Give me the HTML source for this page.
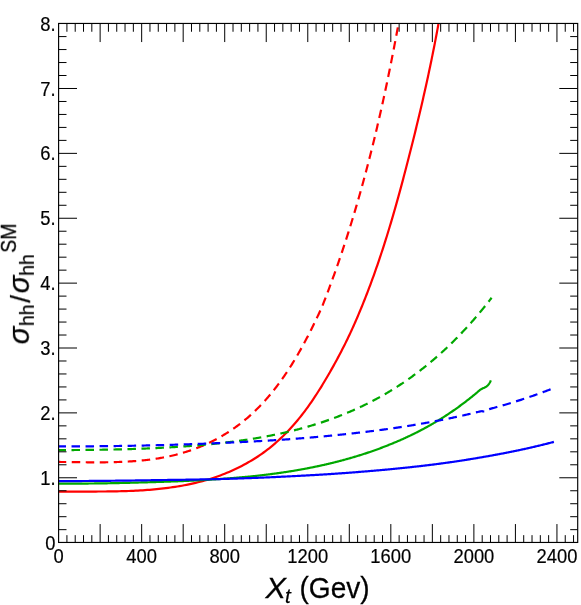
<!DOCTYPE html>
<html><head><meta charset="utf-8"><title>chart</title>
<style>
html,body{margin:0;padding:0;background:#fff;}
svg{display:block;}
text{font-family:"Liberation Sans",sans-serif;fill:#000;}
.tl{font-size:20.0px;stroke:#000;stroke-width:0.2px;}
.it{font-style:italic;}
</style></head><body>
<svg width="581" height="605" viewBox="0 0 581 605">
<rect x="0" y="0" width="581" height="605" fill="#fff"/>
<defs><clipPath id="clip"><rect x="58.6" y="23.45" width="519.1" height="519.0"/></clipPath></defs>

<g clip-path="url(#clip)" fill="none" stroke-width="2.2" stroke-linejoin="round">
<path d="M58.72,491.76 L61.04,491.72 L63.36,491.69 L65.68,491.66 L68.01,491.63 L70.33,491.61 L72.66,491.60 L74.99,491.58 L77.32,491.57 L79.65,491.56 L81.98,491.56 L84.32,491.55 L86.65,491.55 L88.98,491.54 L91.32,491.54 L93.65,491.54 L95.99,491.53 L98.33,491.52 L100.66,491.51 L103.00,491.49 L105.34,491.48 L107.67,491.46 L110.01,491.43 L112.34,491.40 L114.68,491.36 L117.02,491.32 L119.35,491.27 L121.69,491.21 L124.02,491.15 L126.35,491.07 L128.69,490.99 L131.02,490.90 L133.35,490.80 L135.68,490.69 L138.01,490.57 L140.33,490.44 L142.66,490.29 L144.98,490.13 L147.31,489.96 L149.63,489.78 L151.95,489.58 L154.27,489.37 L156.58,489.14 L158.90,488.90 L161.21,488.64 L163.52,488.36 L165.83,488.08 L168.14,487.80 L170.45,487.50 L172.75,487.18 L175.06,486.84 L177.36,486.48 L179.66,486.11 L181.96,485.71 L184.25,485.29 L186.55,484.84 L188.84,484.38 L191.12,483.89 L193.40,483.38 L195.68,482.85 L197.96,482.30 L200.23,481.72 L202.49,481.12 L204.75,480.50 L207.00,479.85 L209.25,479.18 L211.49,478.49 L213.72,477.77 L215.95,477.02 L218.15,476.23 L220.35,475.42 L222.54,474.58 L224.72,473.72 L226.89,472.83 L229.05,471.92 L231.20,470.98 L233.34,470.02 L235.47,469.03 L237.58,468.02 L239.68,466.98 L241.77,465.92 L243.84,464.83 L245.89,463.72 L247.93,462.58 L249.96,461.41 L251.97,460.22 L253.96,459.00 L255.93,457.75 L257.88,456.47 L259.82,455.17 L261.74,453.84 L263.63,452.49 L265.51,451.11 L267.36,449.70 L269.20,448.26 L271.01,446.80 L272.81,445.32 L274.58,443.81 L276.34,442.28 L278.08,440.73 L279.79,439.15 L281.49,437.55 L283.17,435.93 L284.83,434.29 L286.47,432.63 L288.09,430.94 L289.69,429.24 L291.27,427.52 L292.84,425.79 L294.38,424.03 L295.91,422.26 L297.41,420.47 L298.90,418.67 L300.37,416.84 L301.82,415.01 L303.26,413.16 L304.67,411.29 L306.07,409.42 L307.45,407.53 L308.82,405.62 L310.17,403.71 L311.50,401.78 L312.82,399.85 L314.12,397.90 L315.41,395.95 L316.69,393.98 L317.96,392.01 L319.21,390.03 L320.46,388.04 L321.69,386.05 L322.91,384.05 L324.12,382.04 L325.32,380.03 L326.51,378.01 L327.70,376.00 L328.87,373.97 L330.04,371.94 L331.20,369.91 L332.35,367.88 L333.49,365.84 L334.62,363.79 L335.75,361.74 L336.86,359.69 L337.97,357.64 L339.07,355.57 L340.16,353.51 L341.24,351.44 L342.30,349.37 L343.36,347.29 L344.42,345.20 L345.46,343.12 L346.49,341.02 L347.51,338.93 L348.52,336.83 L349.52,334.72 L350.51,332.61 L351.49,330.50 L352.45,328.37 L353.41,326.25 L354.36,324.12 L355.29,321.99 L356.22,319.85 L357.15,317.71 L358.06,315.57 L358.97,313.43 L359.87,311.28 L360.76,309.13 L361.65,306.97 L362.53,304.81 L363.40,302.65 L364.26,300.49 L365.12,298.32 L365.97,296.16 L366.82,293.99 L367.65,291.81 L368.48,289.63 L369.31,287.46 L370.13,285.27 L370.94,283.09 L371.74,280.90 L372.54,278.71 L373.34,276.52 L374.13,274.33 L374.91,272.13 L375.68,269.93 L376.45,267.73 L377.22,265.53 L377.97,263.33 L378.73,261.12 L379.48,258.91 L380.22,256.70 L380.95,254.49 L381.69,252.27 L382.41,250.06 L383.13,247.84 L383.85,245.62 L384.56,243.39 L385.27,241.17 L385.97,238.94 L386.66,236.72 L387.35,234.49 L388.04,232.26 L388.72,230.02 L389.40,227.79 L390.07,225.55 L390.74,223.32 L391.40,221.08 L392.06,218.84 L392.72,216.60 L393.37,214.36 L394.02,212.11 L394.67,209.87 L395.31,207.62 L395.95,205.38 L396.58,203.13 L397.21,200.88 L397.84,198.63 L398.46,196.38 L399.08,194.13 L399.70,191.88 L400.31,189.62 L400.92,187.37 L401.53,185.11 L402.13,182.86 L402.74,180.60 L403.33,178.35 L403.93,176.09 L404.53,173.83 L405.12,171.57 L405.71,169.31 L406.29,167.06 L406.88,164.80 L407.46,162.54 L408.04,160.28 L408.62,158.02 L409.19,155.76 L409.76,153.49 L410.34,151.23 L410.92,148.97 L411.49,146.71 L412.06,144.45 L412.63,142.19 L413.19,139.93 L413.76,137.67 L414.32,135.41 L414.88,133.15 L415.44,130.88 L415.99,128.62 L416.54,126.35 L417.09,124.09 L417.64,121.83 L418.18,119.56 L418.72,117.29 L419.26,115.03 L419.80,112.76 L420.33,110.49 L420.86,108.22 L421.39,105.95 L421.92,103.69 L422.44,101.42 L422.96,99.14 L423.48,96.87 L424.00,94.60 L424.51,92.33 L425.02,90.05 L425.53,87.78 L426.03,85.51 L426.53,83.23 L427.03,80.95 L427.52,78.68 L428.02,76.40 L428.51,74.12 L428.99,71.84 L429.48,69.56 L429.96,67.28 L430.43,65.00 L430.91,62.72 L431.38,60.43 L431.85,58.15 L432.31,55.86 L432.78,53.58 L433.23,51.29 L433.69,49.00 L434.14,46.71 L434.59,44.42 L435.04,42.13 L435.48,39.84 L435.92,37.55 L436.36,35.26 L436.79,32.96 L437.22,30.67 L437.65,28.37 L438.07,26.07 L438.49,23.77 L438.91,21.47 L439.32,19.17 L439.73,16.87 L440.14,14.57 L440.54,12.26 L440.94,9.96" stroke="#ff0000"/>
<path d="M58.83,461.96 L59.91,461.97 L60.98,461.98 L62.06,461.99 L63.14,462.00 L64.23,462.01 L65.31,462.02 L66.40,462.03 L67.48,462.04 L68.57,462.06 L69.66,462.07 L70.76,462.08 L71.85,462.10 L72.94,462.11 L74.04,462.12 L75.14,462.14 L76.23,462.15 L77.33,462.17 L78.43,462.18 L79.54,462.19 L80.64,462.21 L81.74,462.22 L82.85,462.23 L83.95,462.25 L85.06,462.26 L86.17,462.27 L87.28,462.28 L88.39,462.29 L89.50,462.29 L90.61,462.30 L91.72,462.31 L92.84,462.31 L93.95,462.32 L95.07,462.32 L96.18,462.32 L97.30,462.32 L98.41,462.32 L99.53,462.32 L100.65,462.32 L101.77,462.31 L102.88,462.30 L104.00,462.29 L105.12,462.28 L106.24,462.27 L107.36,462.25 L108.48,462.24 L109.60,462.22 L110.72,462.20 L111.85,462.18 L112.97,462.15 L114.09,462.12 L115.21,462.09 L116.33,462.06 L117.45,462.02 L118.57,461.99 L119.70,461.94 L120.82,461.90 L121.94,461.85 L123.06,461.81 L124.18,461.75 L125.30,461.70 L126.42,461.64 L127.54,461.58 L128.66,461.51 L129.78,461.45 L130.90,461.37 L132.02,461.30 L133.14,461.22 L134.26,461.14 L135.37,461.05 L136.49,460.96 L137.61,460.87 L138.72,460.77 L139.84,460.67 L140.95,460.57 L142.07,460.46 L143.18,460.35 L144.29,460.23 L145.40,460.11 L146.51,459.98 L147.62,459.85 L148.73,459.72 L149.84,459.58 L150.95,459.43 L152.05,459.28 L153.16,459.13 L154.26,458.97 L155.36,458.81 L156.46,458.64 L157.56,458.47 L158.66,458.29 L159.76,458.11 L160.86,457.92 L161.95,457.73 L163.05,457.53 L164.14,457.32 L165.23,457.11 L166.32,456.90 L167.41,456.68 L168.50,456.45 L169.58,456.22 L170.66,455.98 L171.75,455.73 L172.83,455.48 L173.91,455.23 L174.98,454.96 L176.06,454.70 L177.13,454.42 L178.20,454.14 L179.27,453.85 L180.34,453.56 L181.41,453.26 L182.47,452.95 L183.53,452.64 L184.59,452.32 L185.65,451.99 L186.71,451.66 L187.76,451.31 L188.81,450.97 L189.86,450.61 L190.91,450.25 L191.96,449.89 L193.00,449.51 L194.04,449.13 L195.08,448.75 L196.11,448.36 L197.14,447.96 L198.18,447.55 L199.20,447.14 L200.23,446.72 L201.25,446.30 L202.27,445.87 L203.29,445.43 L204.30,444.98 L205.31,444.53 L206.32,444.08 L207.33,443.62 L208.33,443.15 L209.33,442.67 L210.33,442.19 L211.32,441.70 L212.31,441.21 L213.30,440.71 L214.28,440.20 L215.26,439.69 L216.24,439.17 L217.21,438.65 L218.18,438.12 L219.15,437.58 L220.11,437.04 L221.07,436.49 L222.03,435.94 L222.98,435.38 L223.93,434.81 L224.88,434.24 L225.82,433.66 L226.76,433.07 L227.70,432.48 L228.63,431.89 L229.55,431.29 L230.48,430.68 L231.40,430.06 L232.31,429.44 L233.22,428.82 L234.13,428.19 L235.03,427.55 L235.93,426.91 L236.82,426.26 L237.71,425.61 L238.60,424.95 L239.48,424.28 L240.36,423.61 L241.23,422.94 L242.10,422.25 L242.96,421.57 L243.82,420.87 L244.68,420.17 L245.53,419.47 L246.37,418.76 L247.22,418.04 L248.05,417.32 L248.88,416.60 L249.71,415.87 L250.53,415.13 L251.35,414.39 L252.17,413.64 L252.98,412.89 L253.78,412.13 L254.58,411.37 L255.38,410.60 L256.17,409.83 L256.96,409.05 L257.74,408.27 L258.52,407.49 L259.29,406.70 L260.06,405.90 L260.83,405.10 L261.59,404.30 L262.35,403.49 L263.10,402.68 L263.85,401.86 L264.60,401.04 L265.34,400.21 L266.07,399.38 L266.81,398.55 L267.54,397.71 L268.26,396.87 L268.98,396.02 L269.70,395.17 L270.41,394.32 L271.12,393.46 L271.83,392.60 L272.53,391.73 L273.23,390.87 L273.92,389.99 L274.61,389.12 L275.30,388.24 L275.98,387.36 L276.66,386.47 L277.33,385.58 L278.00,384.69 L278.67,383.79 L279.33,382.90 L280.00,381.99 L280.65,381.09 L281.30,380.18 L281.95,379.27 L282.60,378.36 L283.24,377.44 L283.88,376.52 L284.52,375.60 L285.15,374.67 L285.78,373.75 L286.40,372.82 L287.03,371.89 L287.64,370.95 L288.26,370.01 L288.87,369.08 L289.48,368.13 L290.08,367.19 L290.69,366.24 L291.29,365.30 L291.88,364.35 L292.47,363.39 L293.06,362.44 L293.65,361.48 L294.23,360.53 L294.81,359.57 L295.39,358.61 L295.96,357.64 L296.53,356.68 L297.10,355.71 L297.67,354.74 L298.23,353.78 L298.79,352.80 L299.34,351.83 L299.90,350.86 L300.45,349.88 L300.99,348.91 L301.54,347.93 L302.08,346.95 L302.62,345.98 L303.15,345.00 L303.69,344.01 L304.22,343.03 L304.75,342.05 L305.27,341.07 L305.79,340.08 L306.31,339.10 L306.83,338.11 L307.35,337.13 L307.86,336.14 L308.37,335.15 L308.88,334.17 L309.38,333.18 L309.88,332.19 L310.38,331.20 L310.88,330.22 L311.38,329.23 L311.87,328.24 L312.36,327.25 L312.85,326.26 L313.33,325.27 L313.82,324.29 L314.30,323.30 L314.78,322.31 L315.25,321.32 L315.73,320.34 L316.20,319.35 L316.67,318.36 L317.14,317.38 L317.60,316.39 L318.07,315.41 L318.53,314.42 L318.99,313.44 L319.45,312.46 L319.90,311.48 L320.36,310.50 L320.81,309.52 L321.26,308.54 L321.77,307.46 L322.15,306.50 L322.53,305.54 L322.91,304.57 L323.29,303.61 L323.66,302.64 L324.04,301.68 L324.41,300.71 L324.79,299.75 L325.16,298.78 L325.53,297.82 L325.90,296.85 L326.27,295.88 L326.64,294.92 L327.01,293.95 L327.38,292.98 L327.74,292.01 L328.11,291.05 L328.47,290.08 L328.83,289.11 L329.20,288.14 L329.56,287.17 L329.92,286.20 L330.28,285.23 L330.64,284.26 L330.99,283.29 L331.35,282.32 L331.71,281.34 L332.06,280.37 L332.42,279.40 L332.77,278.43 L333.12,277.46 L333.47,276.48 L333.82,275.51 L334.17,274.54 L334.52,273.56 L334.87,272.59 L335.22,271.61 L335.56,270.64 L335.91,269.66 L336.25,268.69 L336.59,267.71 L336.94,266.74 L337.28,265.76 L337.62,264.78 L337.96,263.81 L338.30,262.83 L338.63,261.85 L338.97,260.87 L339.31,259.89 L339.64,258.92 L339.98,257.94 L340.31,256.96 L340.64,255.98 L340.98,255.00 L341.31,254.02 L341.64,253.04 L341.97,252.06 L342.29,251.08 L342.62,250.10 L342.95,249.12 L343.27,248.13 L343.60,247.15 L343.92,246.17 L344.25,245.19 L344.57,244.20 L344.89,243.22 L345.21,242.24 L345.53,241.25 L345.85,240.27 L346.17,239.29 L346.48,238.30 L346.80,237.32 L347.12,236.33 L347.43,235.35 L347.75,234.36 L348.06,233.38 L348.37,232.39 L348.68,231.41 L348.99,230.42 L349.30,229.43 L349.61,228.45 L349.92,227.46 L350.23,226.47 L350.53,225.48 L350.84,224.49 L351.14,223.51 L351.45,222.52 L351.75,221.53 L352.06,220.54 L352.36,219.55 L352.66,218.56 L352.96,217.57 L353.26,216.58 L353.56,215.59 L353.85,214.60 L354.15,213.61 L354.45,212.62 L354.74,211.63 L355.04,210.64 L355.33,209.65 L355.63,208.65 L355.92,207.66 L356.21,206.67 L356.50,205.68 L356.79,204.68 L357.08,203.69 L357.37,202.70 L357.66,201.70 L357.94,200.71 L358.23,199.72 L358.52,198.72 L358.80,197.73 L359.08,196.73 L359.37,195.74 L359.65,194.74 L359.93,193.75 L360.21,192.75 L360.49,191.76 L360.77,190.76 L361.05,189.77 L361.33,188.77 L361.61,187.77 L361.89,186.78 L362.16,185.78 L362.44,184.78 L362.71,183.79 L362.99,182.79 L363.26,181.79 L363.53,180.79 L363.80,179.79 L364.07,178.80 L364.34,177.80 L364.61,176.80 L364.88,175.80 L365.15,174.80 L365.42,173.80 L365.68,172.80 L365.95,171.80 L366.22,170.80 L366.48,169.80 L366.74,168.80 L367.01,167.80 L367.27,166.80 L367.53,165.80 L367.79,164.80 L368.05,163.80 L368.31,162.79 L368.57,161.79 L368.83,160.79 L369.09,159.79 L369.35,158.79 L369.60,157.78 L369.86,156.78 L370.11,155.78 L370.37,154.78 L370.62,153.77 L370.88,152.77 L371.13,151.77 L371.38,150.76 L371.63,149.76 L371.88,148.75 L372.13,147.75 L372.38,146.75 L372.63,145.74 L372.88,144.74 L373.13,143.73 L373.37,142.73 L373.62,141.72 L373.86,140.72 L374.11,139.71 L374.35,138.71 L374.60,137.70 L374.84,136.69 L375.08,135.69 L375.32,134.68 L375.56,133.68 L375.80,132.67 L376.04,131.66 L376.28,130.66 L376.52,129.65 L376.76,128.64 L377.00,127.63 L377.23,126.63 L377.47,125.62 L377.71,124.61 L377.94,123.60 L378.18,122.60 L378.41,121.59 L378.64,120.58 L378.88,119.57 L379.11,118.56 L379.34,117.55 L379.57,116.54 L379.80,115.54 L380.03,114.53 L380.26,113.52 L380.49,112.51 L380.71,111.50 L380.94,110.49 L381.17,109.48 L381.40,108.47 L381.62,107.46 L381.85,106.45 L382.07,105.44 L382.29,104.43 L382.52,103.42 L382.74,102.41 L382.96,101.40 L383.18,100.39 L383.41,99.37 L383.63,98.36 L383.85,97.35 L384.07,96.34 L384.28,95.33 L384.50,94.32 L384.72,93.31 L384.94,92.29 L385.16,91.28 L385.37,90.27 L385.59,89.26 L385.80,88.25 L386.02,87.23 L386.23,86.22 L386.45,85.21 L386.66,84.20 L386.87,83.18 L387.08,82.17 L387.29,81.16 L387.51,80.15 L387.72,79.13 L387.93,78.12 L388.14,77.11 L388.34,76.09 L388.55,75.08 L388.76,74.07 L388.97,73.05 L389.18,72.04 L389.38,71.02 L389.59,70.01 L389.79,69.00 L390.00,67.98 L390.20,66.97 L390.41,65.95 L390.61,64.94 L390.81,63.93 L391.02,62.91 L391.22,61.90 L391.42,60.88 L391.62,59.87 L391.82,58.85 L392.02,57.84 L392.22,56.82 L392.42,55.81 L392.62,54.79 L392.82,53.78 L393.02,52.76 L393.22,51.75 L393.41,50.73 L393.61,49.72 L393.81,48.70 L394.00,47.69 L394.20,46.67 L394.39,45.65 L394.59,44.64 L394.78,43.62 L394.97,42.61 L395.17,41.59 L395.36,40.58 L395.55,39.56 L395.74,38.54 L395.93,37.53 L396.12,36.51 L396.32,35.50 L396.51,34.48 L396.70,33.46 L396.88,32.45 L397.07,31.43 L397.26,30.41 L397.45,29.40 L397.64,28.38 L397.82,27.36 L398.01,26.35 L398.20,25.33 L398.38,24.32 L398.57,23.30 L398.75,22.28 L398.94,21.27 L399.12,20.25 L399.31,19.23 L399.49,18.21 L399.67,17.20 L399.86,16.18 L400.04,15.16 L400.22,14.15 L400.40,13.13 L400.58,12.11 L400.77,11.10 L400.95,10.08" stroke="#ff0000" stroke-dasharray="8.5 5.506" stroke-dashoffset="1.1"/>
<path d="M58.60,483.65 L59.30,483.65 L60.01,483.65 L60.71,483.65 L61.42,483.65 L62.12,483.65 L62.83,483.65 L63.53,483.64 L64.24,483.64 L64.94,483.64 L65.65,483.64 L66.35,483.64 L67.05,483.64 L67.76,483.64 L68.46,483.63 L69.17,483.63 L69.87,483.63 L70.58,483.63 L71.28,483.63 L71.99,483.62 L72.69,483.62 L73.39,483.62 L74.10,483.62 L74.80,483.61 L75.51,483.61 L76.21,483.61 L76.92,483.60 L77.62,483.60 L78.33,483.60 L79.03,483.59 L79.74,483.59 L80.44,483.58 L81.14,483.58 L81.85,483.58 L82.55,483.57 L83.26,483.57 L83.96,483.56 L84.67,483.56 L85.37,483.55 L86.08,483.55 L86.78,483.54 L87.48,483.54 L88.19,483.53 L88.89,483.52 L89.60,483.52 L90.30,483.51 L91.01,483.51 L91.71,483.50 L92.42,483.49 L93.12,483.49 L93.83,483.48 L94.53,483.47 L95.23,483.47 L95.94,483.46 L96.64,483.45 L97.35,483.44 L98.05,483.44 L98.76,483.43 L99.46,483.42 L100.17,483.41 L100.87,483.40 L101.57,483.39 L102.28,483.38 L102.98,483.36 L103.69,483.35 L104.39,483.34 L105.10,483.33 L105.80,483.31 L106.51,483.30 L107.21,483.29 L107.92,483.27 L108.62,483.26 L109.32,483.25 L110.03,483.23 L110.73,483.22 L111.44,483.21 L112.14,483.19 L112.85,483.18 L113.55,483.16 L114.26,483.15 L114.96,483.13 L115.67,483.12 L116.37,483.10 L117.07,483.09 L117.78,483.07 L118.48,483.06 L119.19,483.04 L119.89,483.02 L120.60,483.01 L121.30,482.99 L122.01,482.98 L122.71,482.96 L123.41,482.94 L124.12,482.93 L124.82,482.91 L125.53,482.89 L126.23,482.87 L126.94,482.86 L127.64,482.84 L128.35,482.82 L129.05,482.80 L129.76,482.78 L130.46,482.76 L131.16,482.74 L131.87,482.73 L132.57,482.71 L133.28,482.69 L133.98,482.67 L134.69,482.65 L135.39,482.63 L136.10,482.61 L136.80,482.59 L137.50,482.57 L138.21,482.55 L138.91,482.52 L139.62,482.50 L140.32,482.48 L141.03,482.47 L141.73,482.45 L142.44,482.43 L143.14,482.41 L143.85,482.39 L144.55,482.37 L145.25,482.35 L145.96,482.33 L146.66,482.31 L147.37,482.29 L148.07,482.27 L148.78,482.25 L149.48,482.23 L150.19,482.21 L150.89,482.19 L151.59,482.17 L152.30,482.15 L153.00,482.13 L153.71,482.11 L154.41,482.08 L155.12,482.06 L155.82,482.04 L156.53,482.02 L157.23,481.99 L157.94,481.97 L158.64,481.95 L159.34,481.92 L160.05,481.90 L160.75,481.88 L161.46,481.85 L162.16,481.83 L162.87,481.81 L163.57,481.79 L164.28,481.76 L164.98,481.74 L165.69,481.72 L166.39,481.69 L167.09,481.67 L167.80,481.65 L168.50,481.62 L169.21,481.60 L169.91,481.57 L170.62,481.55 L171.32,481.52 L172.03,481.49 L172.73,481.47 L173.43,481.44 L174.14,481.41 L174.84,481.39 L175.55,481.36 L176.25,481.33 L176.96,481.31 L177.66,481.28 L178.37,481.25 L179.07,481.22 L179.78,481.19 L180.48,481.16 L181.18,481.13 L181.89,481.10 L182.59,481.07 L183.30,481.04 L184.00,481.01 L184.71,480.98 L185.41,480.95 L186.12,480.92 L186.82,480.89 L187.52,480.85 L188.23,480.82 L188.93,480.79 L189.64,480.76 L190.34,480.72 L191.05,480.69 L191.75,480.65 L192.46,480.62 L193.16,480.58 L193.87,480.55 L194.57,480.51 L195.27,480.48 L195.98,480.44 L196.68,480.41 L197.39,480.37 L198.09,480.33 L198.80,480.29 L199.50,480.26 L200.21,480.22 L200.91,480.18 L201.62,480.14 L202.32,480.10 L203.02,480.06 L203.73,480.02 L204.43,479.98 L205.14,479.94 L205.84,479.90 L206.55,479.86 L207.25,479.82 L207.96,479.78 L208.66,479.73 L209.36,479.69 L210.07,479.65 L210.77,479.60 L211.48,479.56 L212.18,479.52 L212.89,479.47 L213.59,479.43 L214.30,479.38 L215.00,479.33 L215.71,479.29 L216.41,479.24 L217.11,479.19 L217.82,479.15 L218.52,479.10 L219.23,479.05 L219.93,479.00 L220.64,478.95 L221.34,478.90 L222.05,478.85 L222.75,478.80 L223.45,478.75 L224.16,478.70 L224.86,478.65 L225.57,478.60 L226.27,478.54 L226.98,478.49 L227.68,478.44 L228.39,478.38 L229.09,478.33 L229.80,478.28 L230.50,478.22 L231.20,478.16 L231.91,478.11 L232.61,478.05 L233.32,478.00 L234.02,477.94 L234.73,477.88 L235.43,477.82 L236.14,477.76 L236.84,477.70 L237.54,477.64 L238.25,477.58 L238.95,477.52 L239.66,477.46 L240.36,477.40 L241.07,477.34 L241.77,477.27 L242.48,477.21 L243.18,477.14 L243.89,477.08 L244.59,477.02 L245.29,476.95 L246.00,476.88 L246.70,476.82 L247.41,476.75 L248.11,476.68 L248.82,476.61 L249.52,476.54 L250.23,476.47 L250.93,476.40 L251.64,476.33 L252.34,476.26 L253.04,476.19 L253.75,476.12 L254.45,476.05 L255.16,475.97 L255.86,475.90 L256.57,475.82 L257.27,475.75 L257.98,475.67 L258.68,475.60 L259.38,475.52 L260.09,475.44 L260.79,475.36 L261.50,475.28 L262.20,475.19 L262.91,475.11 L263.61,475.03 L264.32,474.94 L265.02,474.85 L265.73,474.77 L266.43,474.68 L267.13,474.59 L267.84,474.51 L268.54,474.42 L269.25,474.33 L269.95,474.24 L270.66,474.15 L271.36,474.05 L272.07,473.96 L272.77,473.87 L273.47,473.77 L274.18,473.68 L274.88,473.59 L275.59,473.49 L276.29,473.39 L277.00,473.30 L277.70,473.20 L278.41,473.10 L279.11,473.00 L279.82,472.90 L280.52,472.80 L281.22,472.70 L281.93,472.60 L282.63,472.49 L283.34,472.39 L284.04,472.28 L284.75,472.18 L285.45,472.07 L286.16,471.97 L286.86,471.86 L287.56,471.75 L288.27,471.64 L288.97,471.53 L289.68,471.42 L290.38,471.31 L291.09,471.19 L291.79,471.08 L292.50,470.96 L293.20,470.84 L293.91,470.73 L294.61,470.61 L295.31,470.49 L296.02,470.37 L296.72,470.25 L297.43,470.13 L298.13,470.00 L298.84,469.88 L299.54,469.75 L300.25,469.63 L300.95,469.50 L301.66,469.38 L302.36,469.25 L303.06,469.12 L303.77,468.99 L304.47,468.86 L305.18,468.73 L305.88,468.59 L306.59,468.46 L307.29,468.33 L308.00,468.19 L308.70,468.05 L309.40,467.92 L310.11,467.78 L310.81,467.64 L311.52,467.50 L312.22,467.36 L312.93,467.22 L313.63,467.07 L314.34,466.93 L315.04,466.79 L315.75,466.64 L316.45,466.49 L317.15,466.35 L317.86,466.20 L318.56,466.05 L319.27,465.90 L319.97,465.74 L320.68,465.59 L321.38,465.44 L322.09,465.28 L322.79,465.13 L323.49,464.97 L324.20,464.81 L324.90,464.65 L325.61,464.49 L326.31,464.33 L327.02,464.17 L327.72,464.01 L328.43,463.84 L329.13,463.68 L329.84,463.51 L330.54,463.34 L331.24,463.17 L331.95,463.00 L332.65,462.82 L333.36,462.65 L334.06,462.47 L334.77,462.30 L335.47,462.12 L336.18,461.94 L336.88,461.76 L337.58,461.58 L338.29,461.40 L338.99,461.22 L339.70,461.03 L340.40,460.85 L341.11,460.66 L341.81,460.47 L342.52,460.28 L343.22,460.09 L343.93,459.90 L344.63,459.70 L345.33,459.51 L346.04,459.31 L346.74,459.12 L347.45,458.92 L348.15,458.72 L348.86,458.52 L349.56,458.32 L350.27,458.11 L350.97,457.91 L351.68,457.71 L352.38,457.50 L353.08,457.30 L353.79,457.09 L354.49,456.88 L355.20,456.67 L355.90,456.46 L356.61,456.25 L357.31,456.03 L358.02,455.82 L358.72,455.60 L359.42,455.38 L360.13,455.16 L360.83,454.94 L361.54,454.72 L362.24,454.50 L362.95,454.27 L363.65,454.04 L364.36,453.82 L365.06,453.59 L365.77,453.35 L366.47,453.12 L367.17,452.89 L367.88,452.65 L368.58,452.41 L369.29,452.18 L369.99,451.94 L370.70,451.69 L371.40,451.45 L372.11,451.21 L372.81,450.96 L373.51,450.71 L374.22,450.46 L374.92,450.21 L375.63,449.96 L376.33,449.70 L377.04,449.45 L377.74,449.19 L378.45,448.93 L379.15,448.67 L379.86,448.41 L380.56,448.14 L381.26,447.88 L381.97,447.61 L382.67,447.34 L383.38,447.07 L384.08,446.80 L384.79,446.52 L385.49,446.25 L386.20,445.97 L386.90,445.69 L387.61,445.41 L388.31,445.13 L389.01,444.84 L389.72,444.56 L390.42,444.27 L391.13,443.99 L391.83,443.70 L392.54,443.42 L393.24,443.13 L393.95,442.84 L394.65,442.54 L395.35,442.25 L396.06,441.95 L396.76,441.65 L397.47,441.35 L398.17,441.05 L398.88,440.75 L399.58,440.44 L400.29,440.14 L400.99,439.83 L401.70,439.51 L402.40,439.20 L403.10,438.89 L403.81,438.57 L404.51,438.25 L405.22,437.93 L405.92,437.60 L406.63,437.28 L407.33,436.95 L408.04,436.62 L408.74,436.29 L409.44,435.96 L410.15,435.62 L410.85,435.29 L411.56,434.95 L412.26,434.60 L412.97,434.26 L413.67,433.91 L414.38,433.57 L415.08,433.22 L415.79,432.86 L416.49,432.51 L417.19,432.15 L417.90,431.79 L418.60,431.43 L419.31,431.07 L420.01,430.71 L420.72,430.34 L421.42,429.97 L422.13,429.60 L422.83,429.22 L423.53,428.85 L424.24,428.47 L424.94,428.09 L425.65,427.70 L426.35,427.32 L427.06,426.93 L427.76,426.54 L428.47,426.15 L429.17,425.75 L429.88,425.36 L430.58,424.96 L431.28,424.55 L431.99,424.15 L432.69,423.74 L433.40,423.33 L434.10,422.92 L434.81,422.51 L435.51,422.09 L436.22,421.67 L436.92,421.25 L437.63,420.83 L438.33,420.40 L439.03,419.97 L439.74,419.54 L440.44,419.10 L441.15,418.66 L441.85,418.22 L442.56,417.77 L443.26,417.32 L443.97,416.87 L444.67,416.42 L445.37,415.96 L446.08,415.50 L446.78,415.04 L447.49,414.58 L448.19,414.11 L448.90,413.64 L449.60,413.17 L450.31,412.69 L451.01,412.21 L451.72,411.73 L452.42,411.25 L453.12,410.76 L453.83,410.27 L454.53,409.78 L455.24,409.29 L455.94,408.79 L456.65,408.29 L457.35,407.78 L458.06,407.28 L458.76,406.77 L459.46,406.26 L460.17,405.74 L460.87,405.22 L461.58,404.70 L462.28,404.18 L462.99,403.65 L463.69,403.12 L464.40,402.59 L465.10,402.06 L465.81,401.52 L466.51,400.97 L467.21,400.43 L467.92,399.88 L468.62,399.33 L469.33,398.78 L470.03,398.22 L470.74,397.66 L471.44,397.10 L472.15,396.53 L472.85,395.96 L473.55,395.39 L474.26,394.81 L474.96,394.23 L475.67,393.65 L476.37,393.06 L477.10,392.50 L477.45,392.16 L477.80,391.82 L478.15,391.49 L478.51,391.17 L478.88,390.85 L479.25,390.54 L479.62,390.25 L480.01,389.96 L480.41,389.69 L480.81,389.44 L481.22,389.19 L481.64,388.96 L482.07,388.74 L482.50,388.52 L482.93,388.32 L483.38,388.11 L483.82,387.91 L484.26,387.71 L484.69,387.50 L485.12,387.28 L485.55,387.05 L485.96,386.81 L486.36,386.55 L486.74,386.26 L487.11,385.96 L487.47,385.64 L487.81,385.30 L488.13,384.95 L488.45,384.58 L488.75,384.20 L489.03,383.80 L489.30,383.39 L489.56,382.98 L489.81,382.55 L490.04,382.12 L490.27,381.69 L490.48,381.26 L490.69,380.83 L490.89,380.40" stroke="#00a800"/>
<path d="M58.60,450.05 L59.32,450.05 L60.05,450.05 L60.77,450.05 L61.49,450.05 L62.21,450.05 L62.94,450.05 L63.66,450.05 L64.38,450.05 L65.11,450.05 L65.83,450.05 L66.55,450.05 L67.27,450.05 L68.00,450.05 L68.72,450.04 L69.44,450.04 L70.17,450.04 L70.89,450.04 L71.61,450.04 L72.33,450.03 L73.06,450.03 L73.78,450.03 L74.50,450.02 L75.23,450.02 L75.95,450.01 L76.67,450.01 L77.39,450.01 L78.12,450.00 L78.84,450.00 L79.56,449.99 L80.29,449.99 L81.01,449.98 L81.73,449.98 L82.45,449.97 L83.18,449.96 L83.90,449.96 L84.62,449.95 L85.35,449.94 L86.07,449.94 L86.79,449.93 L87.51,449.92 L88.24,449.92 L88.96,449.91 L89.68,449.90 L90.41,449.89 L91.13,449.88 L91.85,449.88 L92.57,449.87 L93.30,449.86 L94.02,449.85 L94.74,449.84 L95.47,449.83 L96.19,449.82 L96.91,449.81 L97.64,449.80 L98.36,449.79 L99.08,449.78 L99.80,449.77 L100.53,449.75 L101.25,449.74 L101.97,449.73 L102.70,449.72 L103.42,449.71 L104.14,449.69 L104.86,449.68 L105.59,449.67 L106.31,449.66 L107.03,449.64 L107.76,449.63 L108.48,449.61 L109.20,449.60 L109.92,449.59 L110.65,449.57 L111.37,449.56 L112.09,449.54 L112.82,449.52 L113.54,449.51 L114.26,449.49 L114.98,449.48 L115.71,449.46 L116.43,449.44 L117.15,449.43 L117.88,449.41 L118.60,449.39 L119.32,449.37 L120.04,449.36 L120.77,449.34 L121.49,449.32 L122.21,449.30 L122.94,449.28 L123.66,449.26 L124.38,449.24 L125.10,449.22 L125.83,449.20 L126.55,449.18 L127.27,449.16 L128.00,449.14 L128.72,449.12 L129.44,449.09 L130.16,449.07 L130.89,449.05 L131.61,449.03 L132.33,449.00 L133.06,448.98 L133.78,448.96 L134.50,448.93 L135.22,448.91 L135.95,448.88 L136.67,448.86 L137.39,448.83 L138.12,448.81 L138.84,448.78 L139.56,448.76 L140.28,448.73 L141.01,448.70 L141.73,448.68 L142.45,448.65 L143.18,448.62 L143.90,448.59 L144.62,448.56 L145.34,448.54 L146.07,448.51 L146.79,448.48 L147.51,448.45 L148.24,448.42 L148.96,448.39 L149.68,448.36 L150.40,448.32 L151.13,448.29 L151.85,448.26 L152.57,448.23 L153.30,448.20 L154.02,448.16 L154.74,448.13 L155.46,448.09 L156.19,448.06 L156.91,448.03 L157.63,447.99 L158.36,447.96 L159.08,447.92 L159.80,447.88 L160.52,447.85 L161.25,447.81 L161.97,447.77 L162.69,447.73 L163.42,447.70 L164.14,447.66 L164.86,447.62 L165.58,447.58 L166.31,447.54 L167.03,447.50 L167.75,447.46 L168.48,447.42 L169.20,447.38 L169.92,447.33 L170.65,447.29 L171.37,447.25 L172.09,447.21 L172.81,447.16 L173.54,447.12 L174.26,447.07 L174.98,447.03 L175.71,446.98 L176.43,446.94 L177.15,446.89 L177.87,446.84 L178.60,446.80 L179.32,446.75 L180.04,446.70 L180.77,446.65 L181.49,446.60 L182.21,446.55 L182.93,446.50 L183.66,446.45 L184.38,446.40 L185.10,446.35 L185.83,446.30 L186.55,446.24 L187.27,446.19 L187.99,446.14 L188.72,446.08 L189.44,446.03 L190.16,445.97 L190.89,445.91 L191.61,445.86 L192.33,445.80 L193.05,445.74 L193.78,445.69 L194.50,445.63 L195.22,445.57 L195.95,445.51 L196.67,445.45 L197.39,445.39 L198.11,445.33 L198.84,445.26 L199.56,445.20 L200.28,445.14 L201.01,445.07 L201.73,445.01 L202.45,444.94 L203.17,444.88 L203.90,444.81 L204.62,444.75 L205.34,444.68 L206.07,444.61 L206.79,444.54 L207.51,444.47 L208.23,444.40 L208.96,444.33 L209.68,444.26 L210.40,444.19 L211.13,444.12 L211.85,444.04 L212.57,443.97 L213.29,443.90 L214.02,443.82 L214.74,443.75 L215.46,443.67 L216.19,443.59 L216.91,443.51 L217.63,443.44 L218.35,443.36 L219.08,443.28 L219.80,443.20 L220.52,443.12 L221.25,443.03 L221.97,442.95 L222.69,442.87 L223.41,442.78 L224.14,442.70 L224.86,442.61 L225.58,442.53 L226.31,442.44 L227.03,442.35 L227.75,442.26 L228.47,442.18 L229.20,442.09 L229.92,441.99 L230.64,441.90 L231.37,441.81 L232.09,441.72 L232.81,441.63 L233.53,441.54 L234.26,441.44 L234.98,441.35 L235.70,441.25 L236.43,441.16 L237.15,441.06 L237.87,440.96 L238.59,440.86 L239.32,440.76 L240.04,440.66 L240.76,440.56 L241.49,440.46 L242.21,440.36 L242.93,440.25 L243.66,440.15 L244.38,440.04 L245.10,439.94 L245.82,439.83 L246.55,439.72 L247.27,439.61 L247.99,439.50 L248.72,439.39 L249.44,439.28 L250.16,439.17 L250.88,439.05 L251.61,438.94 L252.33,438.82 L253.05,438.71 L253.78,438.59 L254.50,438.47 L255.22,438.35 L255.94,438.23 L256.67,438.11 L257.39,437.99 L258.11,437.87 L258.84,437.74 L259.56,437.62 L260.28,437.49 L261.00,437.36 L261.73,437.23 L262.45,437.11 L263.17,436.97 L263.90,436.84 L264.62,436.71 L265.34,436.58 L266.06,436.44 L266.79,436.31 L267.51,436.17 L268.23,436.03 L268.96,435.90 L269.68,435.76 L270.40,435.62 L271.12,435.47 L271.85,435.33 L272.57,435.19 L273.29,435.04 L274.02,434.89 L274.74,434.75 L275.46,434.60 L276.18,434.45 L276.91,434.30 L277.63,434.15 L278.35,433.99 L279.08,433.84 L279.80,433.68 L280.52,433.53 L281.24,433.37 L281.97,433.21 L282.69,433.05 L283.41,432.89 L284.14,432.73 L284.86,432.56 L285.58,432.40 L286.30,432.23 L287.03,432.06 L287.75,431.89 L288.47,431.72 L289.20,431.55 L289.92,431.38 L290.64,431.20 L291.36,431.03 L292.09,430.85 L292.81,430.67 L293.53,430.49 L294.26,430.31 L294.98,430.12 L295.70,429.94 L296.42,429.75 L297.15,429.57 L297.87,429.38 L298.59,429.19 L299.32,429.00 L300.04,428.80 L300.76,428.61 L301.48,428.41 L302.21,428.22 L302.93,428.02 L303.65,427.82 L304.38,427.62 L305.10,427.41 L305.82,427.21 L306.54,427.00 L307.27,426.80 L307.99,426.59 L308.71,426.38 L309.44,426.17 L310.16,425.96 L310.88,425.74 L311.61,425.52 L312.33,425.31 L313.05,425.09 L313.77,424.87 L314.50,424.65 L315.22,424.42 L315.94,424.20 L316.67,423.97 L317.39,423.74 L318.11,423.51 L318.83,423.28 L319.56,423.05 L320.28,422.81 L321.00,422.58 L321.73,422.34 L322.45,422.10 L323.17,421.86 L323.89,421.62 L324.62,421.37 L325.34,421.13 L326.06,420.88 L326.79,420.63 L327.51,420.38 L328.23,420.12 L328.95,419.87 L329.68,419.61 L330.40,419.36 L331.12,419.10 L331.85,418.83 L332.57,418.57 L333.29,418.31 L334.01,418.04 L334.74,417.77 L335.46,417.50 L336.18,417.23 L336.91,416.95 L337.63,416.68 L338.35,416.40 L339.07,416.12 L339.80,415.84 L340.52,415.55 L341.24,415.27 L341.97,414.98 L342.69,414.69 L343.41,414.40 L344.13,414.11 L344.86,413.81 L345.58,413.52 L346.30,413.22 L347.03,412.92 L347.75,412.61 L348.47,412.31 L349.19,412.00 L349.92,411.69 L350.64,411.38 L351.36,411.07 L352.09,410.76 L352.81,410.44 L353.53,410.12 L354.25,409.80 L354.98,409.48 L355.70,409.15 L356.42,408.83 L357.15,408.50 L357.87,408.17 L358.59,407.83 L359.31,407.50 L360.04,407.16 L360.76,406.82 L361.48,406.48 L362.21,406.14 L362.93,405.79 L363.65,405.44 L364.37,405.09 L365.10,404.74 L365.82,404.38 L366.54,404.03 L367.27,403.67 L367.99,403.31 L368.71,402.94 L369.43,402.58 L370.16,402.21 L370.88,401.84 L371.60,401.46 L372.33,401.09 L373.05,400.71 L373.77,400.33 L374.49,399.95 L375.22,399.57 L375.94,399.18 L376.66,398.79 L377.39,398.40 L378.11,398.00 L378.83,397.61 L379.55,397.21 L380.28,396.81 L381.00,396.40 L381.72,396.00 L382.45,395.59 L383.17,395.18 L383.89,394.76 L384.62,394.35 L385.34,393.93 L386.06,393.51 L386.78,393.08 L387.51,392.66 L388.23,392.23 L388.95,391.79 L389.68,391.36 L390.40,390.92 L391.12,390.48 L391.84,390.04 L392.57,389.60 L393.29,389.15 L394.01,388.70 L394.74,388.24 L395.46,387.79 L396.18,387.33 L396.90,386.87 L397.63,386.40 L398.35,385.94 L399.07,385.47 L399.80,384.99 L400.52,384.52 L401.24,384.04 L401.96,383.56 L402.69,383.08 L403.41,382.59 L404.13,382.10 L404.86,381.61 L405.58,381.11 L406.30,380.62 L407.02,380.11 L407.75,379.61 L408.47,379.10 L409.19,378.60 L409.92,378.08 L410.64,377.57 L411.36,377.05 L412.08,376.53 L412.81,376.00 L413.53,375.48 L414.25,374.94 L414.98,374.41 L415.70,373.87 L416.42,373.34 L417.14,372.79 L417.87,372.25 L418.59,371.70 L419.31,371.15 L420.04,370.59 L420.76,370.03 L421.48,369.47 L422.20,368.91 L422.93,368.34 L423.65,367.77 L424.37,367.19 L425.10,366.62 L425.82,366.03 L426.54,365.45 L427.26,364.86 L427.99,364.27 L428.71,363.68 L429.43,363.08 L430.16,362.48 L430.88,361.88 L431.60,361.27 L432.32,360.67 L433.05,360.05 L433.77,359.44 L434.49,358.82 L435.22,358.20 L435.94,357.57 L436.66,356.94 L437.38,356.31 L438.11,355.68 L438.83,355.04 L439.55,354.39 L440.28,353.75 L441.00,353.10 L441.72,352.44 L442.44,351.79 L443.17,351.12 L443.89,350.46 L444.61,349.79 L445.34,349.12 L446.06,348.44 L446.78,347.76 L447.50,347.08 L448.23,346.40 L448.95,345.71 L449.67,345.01 L450.40,344.31 L451.12,343.61 L451.84,342.91 L452.56,342.20 L453.29,341.48 L454.01,340.77 L454.73,340.05 L455.46,339.32 L456.18,338.59 L456.90,337.86 L457.63,337.12 L458.35,336.38 L459.07,335.64 L459.79,334.89 L460.52,334.14 L461.24,333.38 L461.96,332.62 L462.69,331.86 L463.41,331.09 L464.13,330.32 L464.85,329.54 L465.58,328.76 L466.30,327.97 L467.02,327.19 L467.75,326.39 L468.47,325.60 L469.19,324.79 L469.91,323.99 L470.64,323.18 L471.36,322.36 L472.08,321.55 L472.81,320.72 L473.53,319.90 L474.25,319.06 L474.97,318.23 L475.70,317.39 L476.42,316.54 L477.14,315.70 L477.87,314.84 L478.59,313.98 L479.31,313.12 L480.03,312.26 L480.76,311.39 L481.48,310.51 L482.20,309.63 L482.93,308.74 L483.65,307.86 L484.37,306.96 L485.09,306.06 L485.82,305.16 L486.54,304.25 L487.26,303.34 L487.99,302.42 L488.71,301.50 L489.43,300.58 L490.15,299.65 L490.88,298.71 L491.60,297.77" stroke="#00a800" stroke-dasharray="8.5 5.494" stroke-dashoffset="1.1"/>
<path d="M58.60,481.13 L59.43,481.13 L60.25,481.13 L61.08,481.12 L61.91,481.12 L62.73,481.12 L63.56,481.12 L64.39,481.11 L65.22,481.11 L66.04,481.11 L66.87,481.11 L67.70,481.10 L68.52,481.10 L69.35,481.09 L70.18,481.09 L71.00,481.09 L71.83,481.08 L72.66,481.08 L73.48,481.08 L74.31,481.07 L75.14,481.07 L75.96,481.06 L76.79,481.06 L77.62,481.05 L78.45,481.05 L79.27,481.04 L80.10,481.04 L80.93,481.03 L81.75,481.03 L82.58,481.02 L83.41,481.01 L84.23,481.01 L85.06,481.00 L85.89,481.00 L86.71,480.99 L87.54,480.98 L88.37,480.98 L89.19,480.97 L90.02,480.96 L90.85,480.96 L91.68,480.95 L92.50,480.94 L93.33,480.93 L94.16,480.93 L94.98,480.92 L95.81,480.91 L96.64,480.90 L97.46,480.90 L98.29,480.89 L99.12,480.88 L99.94,480.87 L100.77,480.86 L101.60,480.86 L102.42,480.85 L103.25,480.84 L104.08,480.84 L104.91,480.83 L105.73,480.82 L106.56,480.82 L107.39,480.81 L108.21,480.80 L109.04,480.79 L109.87,480.78 L110.69,480.78 L111.52,480.77 L112.35,480.76 L113.17,480.75 L114.00,480.74 L114.83,480.73 L115.65,480.72 L116.48,480.72 L117.31,480.71 L118.14,480.70 L118.96,480.69 L119.79,480.68 L120.62,480.67 L121.44,480.66 L122.27,480.65 L123.10,480.64 L123.92,480.63 L124.75,480.62 L125.58,480.61 L126.40,480.60 L127.23,480.59 L128.06,480.58 L128.88,480.56 L129.71,480.55 L130.54,480.54 L131.37,480.53 L132.19,480.52 L133.02,480.51 L133.85,480.50 L134.67,480.48 L135.50,480.47 L136.33,480.46 L137.15,480.45 L137.98,480.43 L138.81,480.42 L139.63,480.41 L140.46,480.40 L141.29,480.38 L142.11,480.37 L142.94,480.36 L143.77,480.34 L144.60,480.33 L145.42,480.32 L146.25,480.30 L147.08,480.29 L147.90,480.27 L148.73,480.26 L149.56,480.25 L150.38,480.23 L151.21,480.22 L152.04,480.20 L152.86,480.19 L153.69,480.17 L154.52,480.16 L155.34,480.14 L156.17,480.13 L157.00,480.11 L157.83,480.09 L158.65,480.08 L159.48,480.06 L160.31,480.05 L161.13,480.04 L161.96,480.03 L162.79,480.02 L163.61,480.01 L164.44,480.00 L165.27,480.00 L166.09,479.99 L166.92,479.98 L167.75,479.97 L168.57,479.96 L169.40,479.95 L170.23,479.94 L171.06,479.93 L171.88,479.92 L172.71,479.90 L173.54,479.89 L174.36,479.88 L175.19,479.87 L176.02,479.86 L176.84,479.85 L177.67,479.84 L178.50,479.83 L179.32,479.81 L180.15,479.80 L180.98,479.79 L181.80,479.78 L182.63,479.77 L183.46,479.75 L184.29,479.74 L185.11,479.73 L185.94,479.71 L186.77,479.70 L187.59,479.69 L188.42,479.68 L189.25,479.66 L190.07,479.65 L190.90,479.63 L191.73,479.62 L192.55,479.61 L193.38,479.59 L194.21,479.58 L195.03,479.56 L195.86,479.55 L196.69,479.53 L197.52,479.52 L198.34,479.50 L199.17,479.49 L200.00,479.47 L200.82,479.46 L201.65,479.44 L202.48,479.43 L203.30,479.41 L204.13,479.39 L204.96,479.38 L205.78,479.36 L206.61,479.34 L207.44,479.33 L208.26,479.31 L209.09,479.29 L209.92,479.28 L210.75,479.26 L211.57,479.24 L212.40,479.22 L213.23,479.21 L214.05,479.19 L214.88,479.17 L215.71,479.15 L216.53,479.13 L217.36,479.11 L218.19,479.09 L219.01,479.08 L219.84,479.06 L220.67,479.03 L221.49,479.01 L222.32,478.99 L223.15,478.96 L223.98,478.94 L224.80,478.91 L225.63,478.89 L226.46,478.86 L227.28,478.84 L228.11,478.81 L228.94,478.79 L229.76,478.76 L230.59,478.74 L231.42,478.71 L232.24,478.68 L233.07,478.66 L233.90,478.63 L234.73,478.61 L235.55,478.58 L236.38,478.55 L237.21,478.53 L238.03,478.50 L238.86,478.47 L239.69,478.44 L240.51,478.42 L241.34,478.39 L242.17,478.36 L242.99,478.33 L243.82,478.30 L244.65,478.27 L245.47,478.25 L246.30,478.22 L247.13,478.19 L247.96,478.16 L248.78,478.13 L249.61,478.10 L250.44,478.07 L251.26,478.04 L252.09,478.01 L252.92,477.98 L253.74,477.95 L254.57,477.92 L255.40,477.89 L256.22,477.86 L257.05,477.83 L257.88,477.80 L258.70,477.76 L259.53,477.73 L260.36,477.70 L261.19,477.66 L262.01,477.63 L262.84,477.59 L263.67,477.56 L264.49,477.52 L265.32,477.48 L266.15,477.45 L266.97,477.41 L267.80,477.38 L268.63,477.34 L269.45,477.30 L270.28,477.26 L271.11,477.23 L271.93,477.19 L272.76,477.15 L273.59,477.11 L274.42,477.08 L275.24,477.04 L276.07,477.00 L276.90,476.96 L277.72,476.92 L278.55,476.88 L279.38,476.84 L280.20,476.80 L281.03,476.76 L281.86,476.72 L282.68,476.68 L283.51,476.64 L284.34,476.60 L285.16,476.56 L285.99,476.52 L286.82,476.48 L287.65,476.44 L288.47,476.40 L289.30,476.35 L290.13,476.31 L290.95,476.27 L291.78,476.23 L292.61,476.19 L293.43,476.15 L294.26,476.10 L295.09,476.06 L295.91,476.02 L296.74,475.98 L297.57,475.93 L298.39,475.89 L299.22,475.85 L300.05,475.80 L300.88,475.76 L301.70,475.72 L302.53,475.67 L303.36,475.63 L304.18,475.58 L305.01,475.54 L305.84,475.49 L306.66,475.45 L307.49,475.40 L308.32,475.36 L309.14,475.31 L309.97,475.26 L310.80,475.22 L311.62,475.17 L312.45,475.12 L313.28,475.08 L314.11,475.03 L314.93,474.98 L315.76,474.93 L316.59,474.89 L317.41,474.84 L318.24,474.79 L319.07,474.74 L319.89,474.69 L320.72,474.64 L321.55,474.59 L322.37,474.54 L323.20,474.49 L324.03,474.44 L324.85,474.39 L325.68,474.34 L326.51,474.29 L327.34,474.24 L328.16,474.18 L328.99,474.13 L329.82,474.08 L330.64,474.03 L331.47,473.97 L332.30,473.91 L333.12,473.86 L333.95,473.80 L334.78,473.74 L335.60,473.69 L336.43,473.63 L337.26,473.57 L338.08,473.51 L338.91,473.46 L339.74,473.40 L340.57,473.34 L341.39,473.28 L342.22,473.22 L343.05,473.16 L343.87,473.10 L344.70,473.04 L345.53,472.98 L346.35,472.92 L347.18,472.86 L348.01,472.80 L348.83,472.73 L349.66,472.67 L350.49,472.61 L351.31,472.55 L352.14,472.48 L352.97,472.42 L353.80,472.36 L354.62,472.29 L355.45,472.23 L356.28,472.17 L357.10,472.10 L357.93,472.04 L358.76,471.97 L359.58,471.90 L360.41,471.84 L361.24,471.77 L362.06,471.71 L362.89,471.64 L363.72,471.57 L364.54,471.50 L365.37,471.44 L366.20,471.37 L367.03,471.30 L367.85,471.23 L368.68,471.16 L369.51,471.09 L370.33,471.02 L371.16,470.95 L371.99,470.88 L372.81,470.81 L373.64,470.74 L374.47,470.67 L375.29,470.59 L376.12,470.52 L376.95,470.45 L377.77,470.38 L378.60,470.30 L379.43,470.23 L380.26,470.16 L381.08,470.08 L381.91,470.01 L382.74,469.93 L383.56,469.85 L384.39,469.78 L385.22,469.70 L386.04,469.63 L386.87,469.55 L387.70,469.47 L388.52,469.39 L389.35,469.32 L390.18,469.24 L391.01,469.16 L391.83,469.08 L392.66,469.00 L393.49,468.92 L394.31,468.84 L395.14,468.76 L395.97,468.68 L396.79,468.59 L397.62,468.51 L398.45,468.43 L399.27,468.35 L400.10,468.26 L400.93,468.18 L401.75,468.09 L402.58,468.01 L403.41,467.92 L404.24,467.84 L405.06,467.75 L405.89,467.67 L406.72,467.58 L407.54,467.49 L408.37,467.40 L409.20,467.32 L410.02,467.23 L410.85,467.14 L411.68,467.05 L412.50,466.96 L413.33,466.87 L414.16,466.78 L414.98,466.69 L415.81,466.60 L416.64,466.50 L417.47,466.41 L418.29,466.32 L419.12,466.22 L419.95,466.13 L420.77,466.04 L421.60,465.94 L422.43,465.84 L423.25,465.75 L424.08,465.65 L424.91,465.56 L425.73,465.46 L426.56,465.36 L427.39,465.26 L428.21,465.16 L429.04,465.06 L429.87,464.96 L430.70,464.86 L431.52,464.75 L432.35,464.65 L433.18,464.54 L434.00,464.44 L434.83,464.33 L435.66,464.22 L436.48,464.12 L437.31,464.01 L438.14,463.90 L438.96,463.79 L439.79,463.68 L440.62,463.57 L441.44,463.46 L442.27,463.35 L443.10,463.24 L443.93,463.12 L444.75,463.01 L445.58,462.90 L446.41,462.78 L447.23,462.67 L448.06,462.55 L448.89,462.44 L449.71,462.32 L450.54,462.20 L451.37,462.08 L452.19,461.97 L453.02,461.85 L453.85,461.73 L454.67,461.61 L455.50,461.49 L456.33,461.37 L457.16,461.24 L457.98,461.12 L458.81,461.00 L459.64,460.87 L460.46,460.75 L461.29,460.62 L462.12,460.49 L462.94,460.36 L463.77,460.23 L464.60,460.10 L465.42,459.97 L466.25,459.84 L467.08,459.71 L467.90,459.57 L468.73,459.44 L469.56,459.31 L470.39,459.17 L471.21,459.03 L472.04,458.90 L472.87,458.76 L473.69,458.62 L474.52,458.48 L475.35,458.35 L476.17,458.21 L477.00,458.06 L477.83,457.92 L478.65,457.78 L479.48,457.64 L480.31,457.50 L481.13,457.36 L481.96,457.22 L482.79,457.07 L483.62,456.93 L484.44,456.79 L485.27,456.64 L486.10,456.50 L486.92,456.35 L487.75,456.21 L488.58,456.06 L489.40,455.91 L490.23,455.77 L491.06,455.62 L491.88,455.47 L492.71,455.31 L493.54,455.16 L494.36,455.01 L495.19,454.86 L496.02,454.70 L496.85,454.55 L497.67,454.39 L498.50,454.24 L499.33,454.08 L500.15,453.92 L500.98,453.77 L501.81,453.61 L502.63,453.46 L503.46,453.30 L504.29,453.14 L505.11,452.98 L505.94,452.82 L506.77,452.66 L507.59,452.50 L508.42,452.34 L509.25,452.17 L510.08,452.01 L510.90,451.84 L511.73,451.68 L512.56,451.51 L513.38,451.34 L514.21,451.17 L515.04,451.00 L515.86,450.83 L516.69,450.66 L517.52,450.49 L518.34,450.31 L519.17,450.14 L520.00,449.96 L520.82,449.79 L521.65,449.61 L522.48,449.43 L523.31,449.25 L524.13,449.07 L524.96,448.89 L525.79,448.71 L526.61,448.53 L527.44,448.34 L528.27,448.16 L529.09,447.97 L529.92,447.78 L530.75,447.59 L531.57,447.40 L532.40,447.21 L533.23,447.02 L534.05,446.83 L534.88,446.64 L535.71,446.44 L536.54,446.25 L537.36,446.05 L538.19,445.85 L539.02,445.65 L539.84,445.45 L540.67,445.25 L541.50,445.05 L542.32,444.85 L543.15,444.64 L543.98,444.44 L544.80,444.23 L545.63,444.02 L546.46,443.81 L547.28,443.60 L548.11,443.39 L548.94,443.18 L549.77,442.97 L550.59,442.75 L551.42,442.54 L552.25,442.32 L553.07,442.10 L553.90,441.88" stroke="#0000ff"/>
<path d="M58.60,446.43 L59.43,446.43 L60.25,446.43 L61.08,446.43 L61.91,446.43 L62.73,446.43 L63.56,446.43 L64.39,446.42 L65.22,446.42 L66.04,446.42 L66.87,446.42 L67.70,446.42 L68.52,446.42 L69.35,446.41 L70.18,446.41 L71.00,446.41 L71.83,446.41 L72.66,446.40 L73.48,446.40 L74.31,446.40 L75.14,446.40 L75.96,446.39 L76.79,446.39 L77.62,446.38 L78.45,446.38 L79.27,446.38 L80.10,446.37 L80.93,446.37 L81.75,446.36 L82.58,446.36 L83.41,446.35 L84.23,446.35 L85.06,446.34 L85.89,446.34 L86.71,446.33 L87.54,446.33 L88.37,446.32 L89.19,446.31 L90.02,446.31 L90.85,446.30 L91.68,446.30 L92.50,446.29 L93.33,446.28 L94.16,446.27 L94.98,446.27 L95.81,446.26 L96.64,446.25 L97.46,446.24 L98.29,446.24 L99.12,446.23 L99.94,446.22 L100.77,446.21 L101.60,446.20 L102.42,446.19 L103.25,446.18 L104.08,446.18 L104.91,446.17 L105.73,446.16 L106.56,446.15 L107.39,446.14 L108.21,446.13 L109.04,446.12 L109.87,446.11 L110.69,446.10 L111.52,446.09 L112.35,446.07 L113.17,446.06 L114.00,446.05 L114.83,446.04 L115.65,446.03 L116.48,446.02 L117.31,446.01 L118.14,445.99 L118.96,445.98 L119.79,445.97 L120.62,445.96 L121.44,445.94 L122.27,445.93 L123.10,445.92 L123.92,445.90 L124.75,445.89 L125.58,445.88 L126.40,445.86 L127.23,445.85 L128.06,445.83 L128.88,445.82 L129.71,445.81 L130.54,445.79 L131.37,445.78 L132.19,445.76 L133.02,445.74 L133.85,445.73 L134.67,445.71 L135.50,445.70 L136.33,445.68 L137.15,445.67 L137.98,445.65 L138.81,445.63 L139.63,445.62 L140.46,445.60 L141.29,445.58 L142.11,445.56 L142.94,445.55 L143.77,445.53 L144.60,445.51 L145.42,445.49 L146.25,445.47 L147.08,445.46 L147.90,445.44 L148.73,445.42 L149.56,445.40 L150.38,445.38 L151.21,445.36 L152.04,445.34 L152.86,445.32 L153.69,445.30 L154.52,445.28 L155.34,445.26 L156.17,445.24 L157.00,445.22 L157.83,445.20 L158.65,445.18 L159.48,445.16 L160.31,445.13 L161.13,445.11 L161.96,445.09 L162.79,445.07 L163.61,445.05 L164.44,445.02 L165.27,445.00 L166.09,444.98 L166.92,444.95 L167.75,444.93 L168.57,444.91 L169.40,444.88 L170.23,444.86 L171.06,444.84 L171.88,444.81 L172.71,444.79 L173.54,444.76 L174.36,444.74 L175.19,444.71 L176.02,444.69 L176.84,444.66 L177.67,444.64 L178.50,444.61 L179.32,444.58 L180.15,444.56 L180.98,444.53 L181.80,444.50 L182.63,444.48 L183.46,444.45 L184.29,444.42 L185.11,444.39 L185.94,444.37 L186.77,444.34 L187.59,444.31 L188.42,444.28 L189.25,444.25 L190.07,444.22 L190.90,444.19 L191.73,444.17 L192.55,444.14 L193.38,444.11 L194.21,444.08 L195.03,444.05 L195.86,444.02 L196.69,443.98 L197.52,443.95 L198.34,443.92 L199.17,443.89 L200.00,443.86 L200.82,443.83 L201.65,443.80 L202.48,443.76 L203.30,443.73 L204.13,443.70 L204.96,443.66 L205.78,443.63 L206.61,443.60 L207.44,443.56 L208.26,443.53 L209.09,443.50 L209.92,443.46 L210.75,443.43 L211.57,443.39 L212.40,443.36 L213.23,443.32 L214.05,443.29 L214.88,443.25 L215.71,443.21 L216.53,443.18 L217.36,443.14 L218.19,443.11 L219.01,443.07 L219.84,443.03 L220.67,442.99 L221.49,442.96 L222.32,442.92 L223.15,442.88 L223.98,442.84 L224.80,442.80 L225.63,442.76 L226.46,442.72 L227.28,442.68 L228.11,442.64 L228.94,442.60 L229.76,442.56 L230.59,442.53 L231.42,442.49 L232.24,442.45 L233.07,442.42 L233.90,442.38 L234.73,442.34 L235.55,442.30 L236.38,442.27 L237.21,442.23 L238.03,442.19 L238.86,442.15 L239.69,442.11 L240.51,442.07 L241.34,442.03 L242.17,441.99 L242.99,441.95 L243.82,441.91 L244.65,441.87 L245.47,441.83 L246.30,441.79 L247.13,441.74 L247.96,441.70 L248.78,441.66 L249.61,441.62 L250.44,441.57 L251.26,441.53 L252.09,441.49 L252.92,441.44 L253.74,441.40 L254.57,441.36 L255.40,441.31 L256.22,441.27 L257.05,441.22 L257.88,441.18 L258.70,441.13 L259.53,441.08 L260.36,441.04 L261.19,440.99 L262.01,440.94 L262.84,440.90 L263.67,440.85 L264.49,440.80 L265.32,440.75 L266.15,440.71 L266.97,440.66 L267.80,440.61 L268.63,440.56 L269.45,440.51 L270.28,440.46 L271.11,440.41 L271.93,440.36 L272.76,440.31 L273.59,440.26 L274.42,440.20 L275.24,440.15 L276.07,440.10 L276.90,440.05 L277.72,439.99 L278.55,439.94 L279.38,439.89 L280.20,439.83 L281.03,439.78 L281.86,439.73 L282.68,439.67 L283.51,439.62 L284.34,439.56 L285.16,439.50 L285.99,439.45 L286.82,439.39 L287.65,439.33 L288.47,439.28 L289.30,439.22 L290.13,439.16 L290.95,439.10 L291.78,439.04 L292.61,438.97 L293.43,438.91 L294.26,438.85 L295.09,438.78 L295.91,438.72 L296.74,438.65 L297.57,438.59 L298.39,438.52 L299.22,438.46 L300.05,438.39 L300.88,438.32 L301.70,438.26 L302.53,438.19 L303.36,438.12 L304.18,438.05 L305.01,437.98 L305.84,437.92 L306.66,437.85 L307.49,437.78 L308.32,437.71 L309.14,437.64 L309.97,437.57 L310.80,437.49 L311.62,437.42 L312.45,437.35 L313.28,437.28 L314.11,437.21 L314.93,437.13 L315.76,437.06 L316.59,436.99 L317.41,436.91 L318.24,436.84 L319.07,436.76 L319.89,436.69 L320.72,436.61 L321.55,436.53 L322.37,436.46 L323.20,436.38 L324.03,436.30 L324.85,436.22 L325.68,436.15 L326.51,436.07 L327.34,435.99 L328.16,435.91 L328.99,435.83 L329.82,435.75 L330.64,435.67 L331.47,435.58 L332.30,435.50 L333.12,435.42 L333.95,435.34 L334.78,435.25 L335.60,435.17 L336.43,435.09 L337.26,435.00 L338.08,434.92 L338.91,434.83 L339.74,434.75 L340.57,434.66 L341.39,434.57 L342.22,434.49 L343.05,434.40 L343.87,434.31 L344.70,434.22 L345.53,434.13 L346.35,434.04 L347.18,433.95 L348.01,433.86 L348.83,433.77 L349.66,433.68 L350.49,433.59 L351.31,433.50 L352.14,433.41 L352.97,433.32 L353.80,433.22 L354.62,433.13 L355.45,433.04 L356.28,432.95 L357.10,432.85 L357.93,432.76 L358.76,432.66 L359.58,432.57 L360.41,432.47 L361.24,432.38 L362.06,432.28 L362.89,432.18 L363.72,432.08 L364.54,431.98 L365.37,431.89 L366.20,431.79 L367.03,431.69 L367.85,431.59 L368.68,431.48 L369.51,431.38 L370.33,431.28 L371.16,431.18 L371.99,431.07 L372.81,430.97 L373.64,430.87 L374.47,430.76 L375.29,430.66 L376.12,430.55 L376.95,430.44 L377.77,430.34 L378.60,430.23 L379.43,430.12 L380.26,430.01 L381.08,429.90 L381.91,429.79 L382.74,429.68 L383.56,429.57 L384.39,429.46 L385.22,429.35 L386.04,429.23 L386.87,429.12 L387.70,429.00 L388.52,428.89 L389.35,428.77 L390.18,428.66 L391.01,428.54 L391.83,428.42 L392.66,428.30 L393.49,428.18 L394.31,428.05 L395.14,427.93 L395.97,427.81 L396.79,427.69 L397.62,427.56 L398.45,427.44 L399.27,427.31 L400.10,427.18 L400.93,427.06 L401.75,426.93 L402.58,426.80 L403.41,426.67 L404.24,426.54 L405.06,426.41 L405.89,426.28 L406.72,426.15 L407.54,426.02 L408.37,425.88 L409.20,425.75 L410.02,425.62 L410.85,425.48 L411.68,425.35 L412.50,425.21 L413.33,425.07 L414.16,424.93 L414.98,424.80 L415.81,424.66 L416.64,424.52 L417.47,424.38 L418.29,424.23 L419.12,424.09 L419.95,423.95 L420.77,423.81 L421.60,423.66 L422.43,423.52 L423.25,423.37 L424.08,423.23 L424.91,423.08 L425.73,422.93 L426.56,422.78 L427.39,422.63 L428.21,422.48 L429.04,422.33 L429.87,422.18 L430.70,422.03 L431.52,421.87 L432.35,421.72 L433.18,421.57 L434.00,421.41 L434.83,421.25 L435.66,421.10 L436.48,420.94 L437.31,420.78 L438.14,420.62 L438.96,420.46 L439.79,420.30 L440.62,420.14 L441.44,419.98 L442.27,419.81 L443.10,419.65 L443.93,419.49 L444.75,419.32 L445.58,419.15 L446.41,418.99 L447.23,418.82 L448.06,418.65 L448.89,418.48 L449.71,418.31 L450.54,418.14 L451.37,417.97 L452.19,417.80 L453.02,417.62 L453.85,417.45 L454.67,417.27 L455.50,417.10 L456.33,416.92 L457.16,416.74 L457.98,416.56 L458.81,416.38 L459.64,416.20 L460.46,416.02 L461.29,415.84 L462.12,415.65 L462.94,415.47 L463.77,415.28 L464.60,415.10 L465.42,414.91 L466.25,414.72 L467.08,414.53 L467.90,414.34 L468.73,414.15 L469.56,413.96 L470.39,413.77 L471.21,413.57 L472.04,413.38 L472.87,413.18 L473.69,412.98 L474.52,412.79 L475.35,412.59 L476.17,412.39 L477.00,412.19 L477.83,411.99 L478.65,411.78 L479.48,411.58 L480.31,411.39 L481.13,411.25 L481.96,411.21 L482.79,411.32 L483.62,411.52 L484.44,411.60 L485.27,411.36 L486.10,410.83 L486.92,410.21 L487.75,409.70 L488.58,409.34 L489.40,409.07 L490.23,408.84 L491.06,408.62 L491.88,408.40 L492.71,408.17 L493.54,407.95 L494.36,407.73 L495.19,407.51 L496.02,407.28 L496.85,407.05 L497.67,406.83 L498.50,406.60 L499.33,406.37 L500.15,406.14 L500.98,405.90 L501.81,405.66 L502.63,405.42 L503.46,405.18 L504.29,404.94 L505.11,404.70 L505.94,404.45 L506.77,404.21 L507.59,403.96 L508.42,403.71 L509.25,403.46 L510.08,403.21 L510.90,402.96 L511.73,402.71 L512.56,402.45 L513.38,402.20 L514.21,401.94 L515.04,401.68 L515.86,401.42 L516.69,401.16 L517.52,400.90 L518.34,400.64 L519.17,400.38 L520.00,400.11 L520.82,399.84 L521.65,399.58 L522.48,399.31 L523.31,399.04 L524.13,398.76 L524.96,398.49 L525.79,398.22 L526.61,397.94 L527.44,397.66 L528.27,397.39 L529.09,397.11 L529.92,396.83 L530.75,396.54 L531.57,396.26 L532.40,395.97 L533.23,395.68 L534.05,395.40 L534.88,395.11 L535.71,394.82 L536.54,394.52 L537.36,394.23 L538.19,393.93 L539.02,393.64 L539.84,393.34 L540.67,393.04 L541.50,392.74 L542.32,392.43 L543.15,392.13 L543.98,391.82 L544.80,391.52 L545.63,391.21 L546.46,390.90 L547.28,390.59 L548.11,390.27 L548.94,389.96 L549.77,389.64 L550.59,389.33 L551.42,389.02 L552.25,388.70 L553.07,388.39 L553.90,388.07" stroke="#0000ff" stroke-dasharray="8.5 5.524" stroke-dashoffset="1.1"/>
</g>
<path d="M66.91,542.45 v-7.3 M66.91,23.45 v8.3 M75.21,542.45 v-7.3 M75.21,23.45 v8.3 M83.52,542.45 v-7.3 M83.52,23.45 v8.3 M91.82,542.45 v-7.3 M91.82,23.45 v8.3 M100.13,542.45 v-18.4 M100.13,23.45 v18.599999999999998 M108.43,542.45 v-7.3 M108.43,23.45 v8.3 M116.74,542.45 v-7.3 M116.74,23.45 v8.3 M125.04,542.45 v-7.3 M125.04,23.45 v8.3 M133.35,542.45 v-7.3 M133.35,23.45 v8.3 M141.66,542.45 v-18.4 M141.66,23.45 v18.599999999999998 M149.96,542.45 v-7.3 M149.96,23.45 v8.3 M158.27,542.45 v-7.3 M158.27,23.45 v8.3 M166.57,542.45 v-7.3 M166.57,23.45 v8.3 M174.88,542.45 v-7.3 M174.88,23.45 v8.3 M183.18,542.45 v-18.4 M183.18,23.45 v18.599999999999998 M191.49,542.45 v-7.3 M191.49,23.45 v8.3 M199.80,542.45 v-7.3 M199.80,23.45 v8.3 M208.10,542.45 v-7.3 M208.10,23.45 v8.3 M216.41,542.45 v-7.3 M216.41,23.45 v8.3 M224.71,542.45 v-18.4 M224.71,23.45 v18.599999999999998 M233.02,542.45 v-7.3 M233.02,23.45 v8.3 M241.32,542.45 v-7.3 M241.32,23.45 v8.3 M249.63,542.45 v-7.3 M249.63,23.45 v8.3 M257.93,542.45 v-7.3 M257.93,23.45 v8.3 M266.24,542.45 v-18.4 M266.24,23.45 v18.599999999999998 M274.55,542.45 v-7.3 M274.55,23.45 v8.3 M282.85,542.45 v-7.3 M282.85,23.45 v8.3 M291.16,542.45 v-7.3 M291.16,23.45 v8.3 M299.46,542.45 v-7.3 M299.46,23.45 v8.3 M307.77,542.45 v-18.4 M307.77,23.45 v18.599999999999998 M316.07,542.45 v-7.3 M316.07,23.45 v8.3 M324.38,542.45 v-7.3 M324.38,23.45 v8.3 M332.68,542.45 v-7.3 M332.68,23.45 v8.3 M340.99,542.45 v-7.3 M340.99,23.45 v8.3 M349.30,542.45 v-18.4 M349.30,23.45 v18.599999999999998 M357.60,542.45 v-7.3 M357.60,23.45 v8.3 M365.91,542.45 v-7.3 M365.91,23.45 v8.3 M374.21,542.45 v-7.3 M374.21,23.45 v8.3 M382.52,542.45 v-7.3 M382.52,23.45 v8.3 M390.82,542.45 v-18.4 M390.82,23.45 v18.599999999999998 M399.13,542.45 v-7.3 M399.13,23.45 v8.3 M407.44,542.45 v-7.3 M407.44,23.45 v8.3 M415.74,542.45 v-7.3 M415.74,23.45 v8.3 M424.05,542.45 v-7.3 M424.05,23.45 v8.3 M432.35,542.45 v-18.4 M432.35,23.45 v18.599999999999998 M440.66,542.45 v-7.3 M440.66,23.45 v8.3 M448.96,542.45 v-7.3 M448.96,23.45 v8.3 M457.27,542.45 v-7.3 M457.27,23.45 v8.3 M465.57,542.45 v-7.3 M465.57,23.45 v8.3 M473.88,542.45 v-18.4 M473.88,23.45 v18.599999999999998 M482.19,542.45 v-7.3 M482.19,23.45 v8.3 M490.49,542.45 v-7.3 M490.49,23.45 v8.3 M498.80,542.45 v-7.3 M498.80,23.45 v8.3 M507.10,542.45 v-7.3 M507.10,23.45 v8.3 M515.41,542.45 v-18.4 M515.41,23.45 v18.599999999999998 M523.71,542.45 v-7.3 M523.71,23.45 v8.3 M532.02,542.45 v-7.3 M532.02,23.45 v8.3 M540.32,542.45 v-7.3 M540.32,23.45 v8.3 M548.63,542.45 v-7.3 M548.63,23.45 v8.3 M556.94,542.45 v-18.4 M556.94,23.45 v18.599999999999998 M565.24,542.45 v-7.3 M565.24,23.45 v8.3 M573.55,542.45 v-7.3 M573.55,23.45 v8.3 M58.6,529.67 h7.9 M577.7,529.67 h-7.5 M58.6,516.70 h7.9 M577.7,516.70 h-7.5 M58.6,503.72 h7.9 M577.7,503.72 h-7.5 M58.6,490.75 h7.9 M577.7,490.75 h-7.5 M58.6,477.77 h18.4 M577.7,477.77 h-18.4 M58.6,464.79 h7.9 M577.7,464.79 h-7.5 M58.6,451.82 h7.9 M577.7,451.82 h-7.5 M58.6,438.84 h7.9 M577.7,438.84 h-7.5 M58.6,425.87 h7.9 M577.7,425.87 h-7.5 M58.6,412.89 h18.4 M577.7,412.89 h-18.4 M58.6,399.91 h7.9 M577.7,399.91 h-7.5 M58.6,386.94 h7.9 M577.7,386.94 h-7.5 M58.6,373.96 h7.9 M577.7,373.96 h-7.5 M58.6,360.99 h7.9 M577.7,360.99 h-7.5 M58.6,348.01 h18.4 M577.7,348.01 h-18.4 M58.6,335.03 h7.9 M577.7,335.03 h-7.5 M58.6,322.06 h7.9 M577.7,322.06 h-7.5 M58.6,309.08 h7.9 M577.7,309.08 h-7.5 M58.6,296.11 h7.9 M577.7,296.11 h-7.5 M58.6,283.13 h18.4 M577.7,283.13 h-18.4 M58.6,270.15 h7.9 M577.7,270.15 h-7.5 M58.6,257.18 h7.9 M577.7,257.18 h-7.5 M58.6,244.20 h7.9 M577.7,244.20 h-7.5 M58.6,231.23 h7.9 M577.7,231.23 h-7.5 M58.6,218.25 h18.4 M577.7,218.25 h-18.4 M58.6,205.27 h7.9 M577.7,205.27 h-7.5 M58.6,192.30 h7.9 M577.7,192.30 h-7.5 M58.6,179.32 h7.9 M577.7,179.32 h-7.5 M58.6,166.35 h7.9 M577.7,166.35 h-7.5 M58.6,153.37 h18.4 M577.7,153.37 h-18.4 M58.6,140.39 h7.9 M577.7,140.39 h-7.5 M58.6,127.42 h7.9 M577.7,127.42 h-7.5 M58.6,114.44 h7.9 M577.7,114.44 h-7.5 M58.6,101.47 h7.9 M577.7,101.47 h-7.5 M58.6,88.49 h18.4 M577.7,88.49 h-18.4 M58.6,75.51 h7.9 M577.7,75.51 h-7.5 M58.6,62.54 h7.9 M577.7,62.54 h-7.5 M58.6,49.56 h7.9 M577.7,49.56 h-7.5 M58.6,36.59 h7.9 M577.7,36.59 h-7.5" stroke="#000" stroke-width="1.0" fill="none"/>
<rect x="58.6" y="23.45" width="519.1" height="519.0" fill="none" stroke="#000" stroke-width="1.15"/>
<g opacity="0.999">
<text class="tl" transform="translate(58.60,562.9) scale(0.92,1)" text-anchor="middle">0</text>
<text class="tl" transform="translate(141.66,562.9) scale(0.92,1)" text-anchor="middle">400</text>
<text class="tl" transform="translate(224.71,562.9) scale(0.92,1)" text-anchor="middle">800</text>
<text class="tl" transform="translate(307.77,562.9) scale(0.92,1)" text-anchor="middle">1200</text>
<text class="tl" transform="translate(390.82,562.9) scale(0.92,1)" text-anchor="middle">1600</text>
<text class="tl" transform="translate(473.88,562.9) scale(0.92,1)" text-anchor="middle">2000</text>
<text class="tl" transform="translate(556.94,562.9) scale(0.92,1)" text-anchor="middle">2400</text>
<text class="tl" transform="translate(55.6,549.90) scale(0.92,1)" text-anchor="end">0</text>
<text class="tl" transform="translate(55.6,484.90) scale(0.92,1)" text-anchor="end">1.</text>
<text class="tl" transform="translate(55.6,419.90) scale(0.92,1)" text-anchor="end">2.</text>
<text class="tl" transform="translate(55.6,354.90) scale(0.92,1)" text-anchor="end">3.</text>
<text class="tl" transform="translate(55.6,289.90) scale(0.92,1)" text-anchor="end">4.</text>
<text class="tl" transform="translate(55.6,224.90) scale(0.92,1)" text-anchor="end">5.</text>
<text class="tl" transform="translate(55.6,159.90) scale(0.92,1)" text-anchor="end">6.</text>
<text class="tl" transform="translate(55.6,95.90) scale(0.92,1)" text-anchor="end">7.</text>
<text class="tl" transform="translate(55.6,30.90) scale(0.92,1)" text-anchor="end">8.</text>
<text transform="translate(265.6,597.5) scale(1.02,1)" font-size="30.0" stroke="#000" stroke-width="0.25" class="it">X</text>
<text transform="translate(284.9,603.2) scale(1.0,1)" font-size="20.6" stroke="#000" stroke-width="0.25" class="it">t</text>
<text transform="translate(299.5,597.7) scale(0.962,1)" font-size="29.2" stroke="#000" stroke-width="0.25">(Gev)</text>
<g transform="translate(28.9,344.3) rotate(-90)">
<text transform="translate(0,0) scale(1.0,1)" font-size="29.2" stroke="#000" stroke-width="0.25" class="it">σ</text>
<text transform="translate(18.2,4.7) scale(0.944,1)" font-size="20.6" stroke="#000" stroke-width="0.25">hh</text>
<text transform="translate(41.5,0.5) scale(1.0,1)" font-size="27.8" stroke="#000" stroke-width="0.25">/</text>
<text transform="translate(50.9,0) scale(1.0,1)" font-size="29.2" stroke="#000" stroke-width="0.25" class="it">σ</text>
<text transform="translate(68.4,4.7) scale(0.944,1)" font-size="20.6" stroke="#000" stroke-width="0.25">hh</text>
<text transform="translate(91.6,-12.7) scale(0.89,1)" font-size="21.9" stroke="#000" stroke-width="0.25">SM</text>
</g>
</g>
</svg></body></html>
